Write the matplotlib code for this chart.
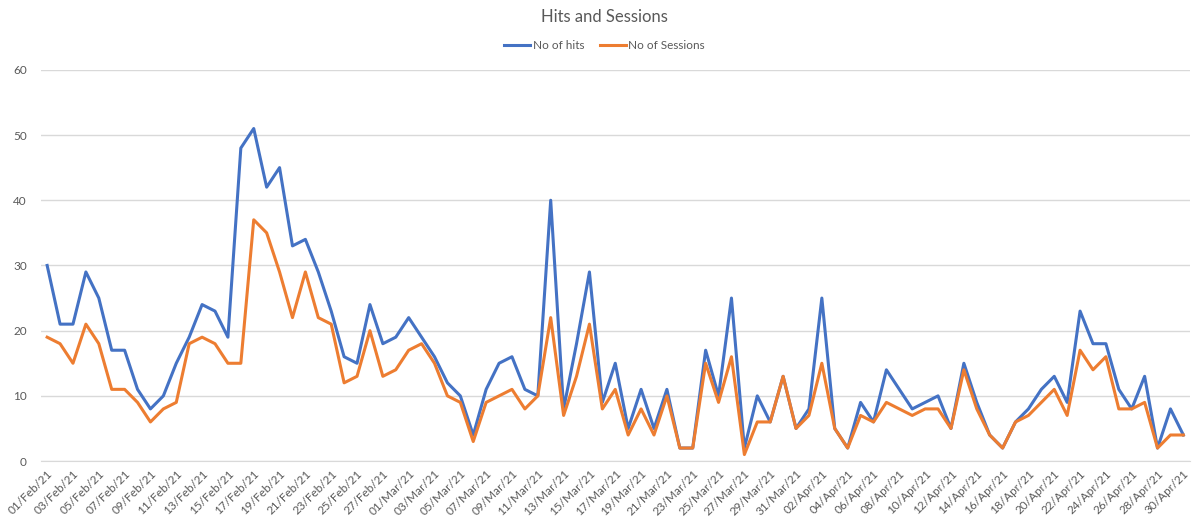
import pandas as pd
import matplotlib.pyplot as plt

# dates: 01/Feb/21 .. 30/Apr/21
dates = pd.date_range("2021-02-01", "2021-04-30", freq="D")
date_labels = [d.strftime("%d/%b/%y") for d in dates]

hits = [30, 21, 21, 29, 25, 17, 17, 11, 8, 10, 15, 19, 24, 23, 19, 48, 51, 42, 45, 33,
        34, 29, 23, 16, 15, 24, 18, 19,
        22, 19, 16, 12, 10, 4, 11, 15, 16, 11, 10, 40, 8, 18, 29, 9, 15, 5, 11, 5, 11, 2,
        2, 17, 10, 25, 2, 10, 6, 13, 5, 8, 25,
        5, 2, 9, 6, 14, 11, 8, 9, 10, 5, 15, 9, 4, 2, 6, 8, 11, 13, 9, 23,
        18, 18, 11, 8, 13, 2, 8, 4]
sessions = [19, 18, 15, 21, 18, 11, 11, 9, 6, 8, 9, 18, 19, 18, 15, 15, 37, 35, 29, 22,
            29, 22, 21, 12, 13, 20, 13, 14,
            17, 18, 15, 10, 9, 3, 9, 10, 11, 8, 10, 22, 7, 13, 21, 8, 11, 4, 8, 4, 10, 2,
            2, 15, 9, 16, 1, 6, 6, 13, 5, 7, 15,
            5, 2, 7, 6, 9, 8, 7, 8, 8, 5, 14, 8, 4, 2, 6, 7, 9, 11, 7, 17,
            14, 16, 8, 8, 9, 2, 4, 4]

plt.rcParams['font.family'] = ['Lato', 'DejaVu Sans']
grey = "#595959"

fig = plt.figure(figsize=(11.97, 5.21), dpi=100)
ax = fig.add_axes([0.034, 0.115, 0.960, 0.751])

x = list(range(len(dates)))
ax.plot(x, hits, color="#4472C4", linewidth=2.2, label="No of hits")
ax.plot(x, sessions, color="#ED7D31", linewidth=2.2, label="No of Sessions")

ax.set_ylim(0, 60)
ax.set_yticks(range(0, 61, 10))
ax.set_xlim(-0.5, len(dates) - 0.5)
ax.set_xticks(x[::2])
ax.set_xticklabels(date_labels[::2], rotation=45, ha="right", rotation_mode="anchor")
ax.tick_params(axis="both", length=0, colors=grey, labelsize=8.5)
ax.tick_params(axis="y", pad=10)
ax.tick_params(axis="x", pad=5)

ax.grid(axis="y", color="#D9D9D9", linewidth=1)
ax.set_axisbelow(True)
for s in ["top", "right", "left"]:
    ax.spines[s].set_visible(False)
ax.spines["bottom"].set_color("#D9D9D9")

fig.text(0.505, 0.968, "Hits and Sessions", ha="center", va="center", fontsize=12, color=grey)
fig.legend(loc="center", bbox_to_anchor=(0.505, 0.912), ncol=2, frameon=False,
           fontsize=8.5, labelcolor=grey, handlelength=2.2, handletextpad=0.2,
           columnspacing=1.3)

fig.savefig("out.png", dpi=100)
